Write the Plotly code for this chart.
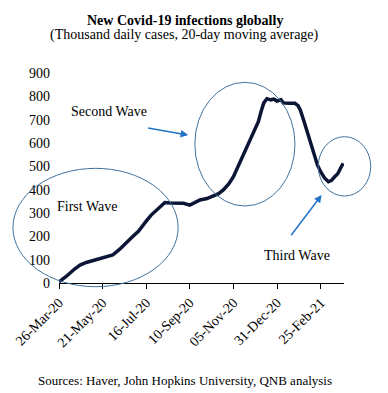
import plotly.graph_objects as go

dates = ["2020-03-26", "2020-04-05", "2020-04-15", "2020-04-22", "2020-04-30", "2020-05-10",
         "2020-05-17", "2020-05-25", "2020-06-03", "2020-06-12", "2020-06-21", "2020-06-29",
         "2020-07-06", "2020-07-12", "2020-07-16", "2020-07-22", "2020-07-29", "2020-08-03",
         "2020-08-09", "2020-08-16", "2020-08-24", "2020-09-02", "2020-09-10", "2020-09-17",
         "2020-09-23", "2020-10-02", "2020-10-10", "2020-10-17", "2020-10-23", "2020-10-30",
         "2020-11-05", "2020-11-11", "2020-11-16", "2020-11-21", "2020-11-26", "2020-12-01",
         "2020-12-07", "2020-12-11", "2020-12-14", "2020-12-18", "2020-12-23", "2020-12-27",
         "2020-12-31", "2021-01-05", "2021-01-08", "2021-01-15", "2021-01-23", "2021-01-27",
         "2021-01-30", "2021-02-03", "2021-02-07", "2021-02-11", "2021-02-16", "2021-02-21",
         "2021-02-25", "2021-03-02", "2021-03-07", "2021-03-11", "2021-03-15", "2021-03-19",
         "2021-03-23", "2021-03-26"]
cases = [5, 30, 60, 77, 88, 97,
         103, 110, 120, 145, 177, 200,
         222, 245, 265, 290, 313, 330,
         345, 343, 343, 342, 334, 345,
         356, 362, 372, 383, 399, 425,
         456, 500, 541, 580, 613, 650,
         691, 740, 772, 790, 785, 788,
         780, 785, 772, 770, 770, 760,
         741, 700, 656, 610, 556, 505,
         477, 450, 434, 440, 455, 468,
         495, 513]

tick_dates = ["2020-03-26", "2020-05-21", "2020-07-16", "2020-09-10",
              "2020-11-05", "2020-12-31", "2021-02-25"]
tick_labels = ["26-Mar-20", "21-May-20", "16-Jul-20", "10-Sep-20",
               "05-Nov-20", "31-Dec-20", "25-Feb-21"]
y_ticks = [0, 100, 200, 300, 400, 500, 600, 700, 800, 900]

FONT = "Liberation Serif, Times New Roman, serif"

fig = go.Figure()
fig.add_trace(go.Scatter(x=dates, y=cases, mode="lines",
                         line=dict(color="#0B1535", width=3.5),
                         hoverinfo="skip", showlegend=False))

ell = dict(type="circle", xref="paper", yref="paper",
           line=dict(color="#41719C", width=1), fillcolor="rgba(0,0,0,0)", layer="above")
shapes = [
    dict(ell, x0=-0.1616, x1=0.418, y0=-0.0176, y1=0.546),
    dict(ell, x0=0.4766, x1=0.828, y0=0.3667, y1=0.9557),
    dict(ell, x0=0.9097, x1=1.0938, y0=0.414, y1=0.6967),
]

txt = dict(family=FONT, size=14, color="black")
lab = dict(xref="paper", yref="paper", showarrow=False, xanchor="center", yanchor="middle")
annotations = [
    dict(lab, text="<b>New Covid-19 infections globally</b>", x=0.4415, y=1.252, font=txt),
    dict(lab, text="(Thousand daily cases, 20-day moving average)", x=0.4415, y=1.181, font=txt),
    dict(lab, text="Sources: Haver, John Hopkins University, QNB analysis", x=0.4415, y=-0.462,
         font=dict(family=FONT, size=13, color="black")),
    dict(lab, text="Second Wave", x=0.174, y=0.816, font=txt),
    dict(lab, text="First Wave", x=0.0998, y=0.363, font=txt),
    dict(lab, text="Third Wave", x=0.834, y=0.133, font=txt),
    dict(text="", x=0.4531, y=0.7048, xref="paper", yref="paper", showarrow=True,
         ax=-41.6, ay=-7.3, arrowhead=2, arrowsize=1, arrowwidth=1.5, arrowcolor="#2272C6"),
    dict(text="", x=0.9217, y=0.419, xref="paper", yref="paper", showarrow=True,
         ax=-31.7, ay=41.7, arrowhead=2, arrowsize=1, arrowwidth=1.5, arrowcolor="#2272C6"),
]

fig.update_layout(
    width=388, height=393,
    margin=dict(l=59, r=44, t=73, b=110, autoexpand=False),
    paper_bgcolor="white", plot_bgcolor="white",
    font=dict(family=FONT, size=14, color="black"),
    shapes=shapes, annotations=annotations,
    xaxis=dict(type="date", range=["2020-03-26", "2021-03-27"], automargin=False,
               tickvals=tick_dates, ticktext=tick_labels, tickangle=-45,
               ticks="outside", ticklen=5, tickcolor="black", tickwidth=1,
               showline=True, linecolor="black", linewidth=1, showgrid=False,
               zeroline=False, tickfont=dict(family=FONT, size=14, color="black")),
    yaxis=dict(range=[0, 900], tickvals=y_ticks, showgrid=False, zeroline=False,
               showline=False, ticks="", ticklabelstandoff=8, automargin=False,
               tickfont=dict(family=FONT, size=14, color="black")),
)

fig.write_html("out.html", config={"displayModeBar": False},
               post_script="document.body.style.margin='0';")
